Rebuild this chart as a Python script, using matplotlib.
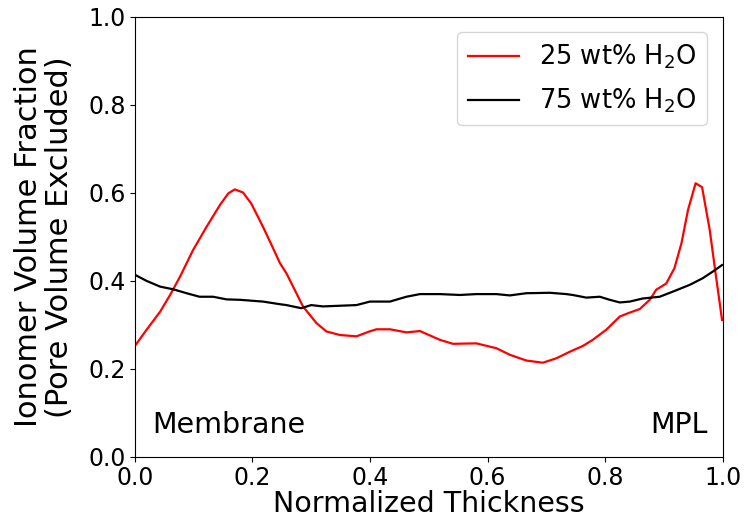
import matplotlib
matplotlib.use("Agg")
import matplotlib.pyplot as plt

red_x = [0.0, 0.02, 0.043, 0.06, 0.077, 0.099, 0.122, 0.145, 0.159, 0.170, 0.184, 0.198,
         0.218, 0.230, 0.247, 0.258, 0.286, 0.309, 0.326, 0.349, 0.377, 0.399, 0.411,
         0.434, 0.462, 0.485, 0.519, 0.541, 0.581, 0.615, 0.638, 0.666, 0.694, 0.717,
         0.740, 0.762, 0.779, 0.802, 0.825, 0.842, 0.859, 0.876, 0.887, 0.904, 0.918,
         0.930, 0.941, 0.954, 0.965, 0.978, 0.988, 0.999]
red_y = [0.252, 0.289, 0.330, 0.368, 0.410, 0.470, 0.523, 0.573, 0.599, 0.608, 0.601, 0.576,
         0.523, 0.489, 0.440, 0.417, 0.342, 0.304, 0.285, 0.277, 0.274, 0.285, 0.290,
         0.290, 0.283, 0.286, 0.266, 0.257, 0.258, 0.247, 0.232, 0.219, 0.214, 0.224,
         0.239, 0.252, 0.266, 0.289, 0.319, 0.328, 0.336, 0.357, 0.380, 0.394, 0.429,
         0.486, 0.561, 0.622, 0.613, 0.516, 0.417, 0.311]

blk_x = [0.0, 0.02, 0.043, 0.065, 0.088, 0.11, 0.133, 0.156, 0.179, 0.218, 0.247, 0.258,
         0.283, 0.30, 0.32, 0.377, 0.40, 0.434, 0.462, 0.485, 0.519, 0.553, 0.581, 0.615,
         0.638, 0.666, 0.706, 0.734, 0.745, 0.768, 0.791, 0.808, 0.825, 0.842, 0.864,
         0.893, 0.916, 0.944, 0.966, 0.983, 0.999]
blk_y = [0.414, 0.400, 0.387, 0.381, 0.372, 0.364, 0.364, 0.358, 0.357, 0.353, 0.347, 0.345,
         0.338, 0.345, 0.342, 0.345, 0.353, 0.353, 0.364, 0.370, 0.370, 0.368, 0.370, 0.370,
         0.367, 0.372, 0.373, 0.370, 0.368, 0.362, 0.364, 0.357, 0.351, 0.353, 0.360,
         0.364, 0.376, 0.391, 0.406, 0.421, 0.436]

fig = plt.figure(figsize=(7.45, 5.3), dpi=100)
ax = fig.add_axes([0.181, 0.138, 0.789, 0.830])
ax.plot(red_x, red_y, color="red", lw=1.6, label="25 wt% H$_2$O")
ax.plot(blk_x, blk_y, color="black", lw=1.6, label="75 wt% H$_2$O")
ax.set_xlim(0, 1)
ax.set_ylim(0, 1)
ax.set_xticks([0, 0.2, 0.4, 0.6, 0.8, 1.0])
ax.set_yticks([0, 0.2, 0.4, 0.6, 0.8, 1.0])
ax.tick_params(labelsize=17, pad=3)
ax.set_xlabel("Normalized Thickness", fontsize=20.5, labelpad=0)
ax.set_ylabel("Ionomer Volume Fraction\n(Pore Volume Excluded)", fontsize=22, labelpad=10,
              linespacing=1.1)
ax.text(0.03, 0.055, "Membrane", fontsize=20.5, transform=ax.transAxes)
ax.text(0.975, 0.055, "MPL", fontsize=20.5, ha="right", transform=ax.transAxes)
ax.legend(fontsize=18.5, loc="upper right", handlelength=2.0, borderaxespad=0.6,
          labelspacing=0.6)
fig.savefig("out.png", dpi=100)
